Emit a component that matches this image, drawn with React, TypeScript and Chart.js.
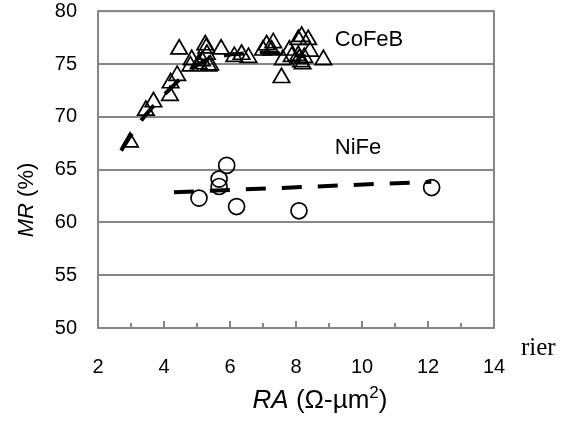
import React, { useEffect, useRef } from "react";
import { Chart, registerables } from "chart.js";

Chart.register(...registerables);

// CoFeB measurements: RA (Ω-µm²) and MR (%)
const cofebRA = [2.97, 3.45, 3.68, 4.18, 4.2, 4.4, 4.46, 4.8, 4.84, 5.05, 5.15, 5.25, 5.28, 5.3, 5.35, 5.4, 5.73, 6.13, 6.35, 6.56, 7.0, 7.11, 7.26, 7.31, 7.56, 7.6, 7.8, 7.87, 8.07, 8.17, 8.37, 8.42, 8.83, 8.07, 8.1, 8.15, 8.2, 8.25];
const cofebMR = [67.6, 70.6, 71.4, 72.0, 73.2, 73.9, 76.4, 74.8, 75.4, 75.0, 75.3, 76.8, 76.5, 75.9, 74.8, 74.9, 76.4, 75.7, 75.9, 75.6, 76.3, 76.8, 76.3, 77.0, 73.7, 75.4, 76.3, 75.7, 77.3, 77.6, 77.3, 76.2, 75.4, 75.8, 75.5, 75.2, 75.0, 75.6];

// NiFe measurements
const nifeRA = [5.06, 5.67, 5.67, 5.9, 6.2, 8.09, 12.11];
const nifeMR = [62.3, 64.1, 63.4, 65.4, 61.5, 61.1, 63.3];

// Trend lines
const cofebTrendRA = [2.7, 3.2, 3.7, 4.3, 4.8, 5.3, 6.0, 6.5, 7.0, 7.5, 8.3];
const cofebTrendMR = [66.8, 69.2, 71.1, 73.0, 74.5, 75.4, 75.9, 76.0, 76.1, 76.0, 75.7];
const nifeTrendRA = [4.3, 12.1];
const nifeTrendMR = [62.85, 63.85];

// Axes
const xMin = 2, xMax = 14, xStep = 2;
const yMin = 50, yMax = 80, yStep = 5;

const labelCoFeB = "CoFeB";
const labelNiFe = "NiFe";

const FONT = "'Liberation Sans', Arial, sans-serif";

function pts(xs: number[], ys: number[]) {
  return xs.map((x, i) => ({ x, y: ys[i] }));
}

export default function App() {
  const ref = useRef<HTMLCanvasElement>(null);

  useEffect(() => {
    const deco = {
      id: "deco",
      beforeDatasetsDraw(chart: any) {
        const { ctx, chartArea: a, scales } = chart;
        const xs = scales.x;
        ctx.save();
        ctx.strokeStyle = "#878787";
        ctx.lineWidth = 2;
        ctx.strokeRect(a.left, a.top, a.right - a.left, a.bottom - a.top);
        for (let v = xMin; v <= xMax; v += 1) {
          const px = Math.round(xs.getPixelForValue(v));
          const len = v % 2 === 0 ? 7 : 5;
          ctx.beginPath();
          ctx.moveTo(px, a.bottom);
          ctx.lineTo(px, a.bottom - len);
          ctx.stroke();
        }
        ctx.restore();
      },
      afterDraw(chart: any) {
        const { ctx } = chart;
        ctx.save();
        ctx.fillStyle = "#000";
        ctx.textBaseline = "middle";
        ctx.font = `22px ${FONT}`;
        ctx.textAlign = "center";
        ctx.fillText(labelCoFeB, 369, 40);
        ctx.fillText(labelNiFe, 358, 148);

        // x title: RA (Ω-µm²)
        ctx.textAlign = "left";
        const xparts: [string, string, number][] = [
          ["RA", `italic 26px ${FONT}`, 0],
          [" (Ω-µm", `26px ${FONT}`, 0],
          ["2", `17px ${FONT}`, -8],
          [")", `26px ${FONT}`, 0],
        ];
        let total = 0;
        for (const [t, f] of xparts) { ctx.font = f; total += ctx.measureText(t).width; }
        let x = 320 - total / 2;
        for (const [t, f, dy] of xparts) {
          ctx.font = f;
          ctx.fillText(t, x, 401 + dy);
          x += ctx.measureText(t).width;
        }

        // y title: MR (%)
        const yparts: [string, string][] = [["MR", `italic 22px ${FONT}`], [" (%)", `22px ${FONT}`]];
        let ytot = 0;
        for (const [t, f] of yparts) { ctx.font = f; ytot += ctx.measureText(t).width; }
        ctx.translate(27, 200);
        ctx.rotate(-Math.PI / 2);
        let yx = -ytot / 2;
        for (const [t, f] of yparts) {
          ctx.font = f;
          ctx.fillText(t, yx, 0);
          yx += ctx.measureText(t).width;
        }
        ctx.restore();
      },
    };

    const chart = new Chart(ref.current as HTMLCanvasElement, {
      type: "scatter",
      data: {
        datasets: [
          {
            type: "line",
            data: pts(cofebTrendRA, cofebTrendMR),
            borderColor: "#000",
            borderWidth: 4,
            borderDash: [20, 16],
            pointRadius: 0,
            cubicInterpolationMode: "monotone",
            fill: false,
          },
          {
            type: "line",
            data: pts(nifeTrendRA, nifeTrendMR),
            borderColor: "#000",
            borderWidth: 4,
            borderDash: [20, 16],
            pointRadius: 0,
            fill: false,
          },
          {
            data: pts(cofebRA, cofebMR),
            pointStyle: "triangle",
            pointRadius: 9.5,
            pointBorderWidth: 1.7,
            pointBorderColor: "#000",
            pointBackgroundColor: "rgba(0,0,0,0)",
          },
          {
            data: pts(nifeRA, nifeMR),
            pointStyle: "circle",
            pointRadius: 8,
            pointBorderWidth: 1.7,
            pointBorderColor: "#000",
            pointBackgroundColor: "rgba(0,0,0,0)",
          },
        ],
      } as any,
      options: {
        responsive: false,
        animation: false,
        devicePixelRatio: 1,
        layout: { padding: { left: 0, top: 7, right: 74, bottom: 0 } },
        plugins: { legend: { display: false }, tooltip: { enabled: false } },
        scales: {
          x: {
            type: "linear",
            min: xMin,
            max: xMax,
            grid: { display: false, drawTicks: false },
            border: { display: false },
            ticks: {
              stepSize: xStep,
              padding: 27,
              color: "#000",
              font: { family: FONT, size: 20 },
            },
            afterFit(s: any) {
              s.height = 94;
              s.paddingLeft = 0;
              s.paddingRight = 0;
            },
          },
          y: {
            type: "linear",
            min: yMin,
            max: yMax,
            grid: { color: "#878787", lineWidth: 2, drawTicks: false },
            border: { display: false },
            ticks: {
              stepSize: yStep,
              padding: 21,
              color: "#000",
              font: { family: FONT, size: 20 },
            },
            afterFit(s: any) {
              s.width = 98;
              s.paddingTop = 0;
              s.paddingBottom = 0;
            },
          },
        },
      } as any,
      plugins: [deco],
    });
    return () => chart.destroy();
  }, []);

  return (
    <div style={{ position: "fixed", left: 0, top: 0, width: 568, height: 422, background: "#fff" }}>
      <canvas ref={ref} width={568} height={422} style={{ display: "block" }} />
      <span
        style={{
          position: "absolute",
          left: 521,
          top: 333,
          fontFamily: "'Liberation Serif', 'Times New Roman', serif",
          fontSize: 25,
          lineHeight: "28px",
          color: "#000",
        }}
      >
        rier
      </span>
    </div>
  );
}
